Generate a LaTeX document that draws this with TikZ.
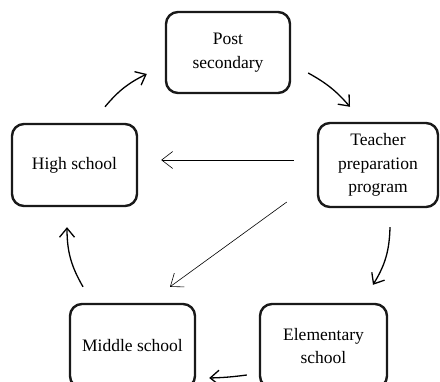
\documentclass[tikz,border=0pt]{standalone}
\usepackage{fontspec}
\setmainfont{Liberation Serif}
\usetikzlibrary{arrows.meta}
\begin{document}
\begin{tikzpicture}[x=1pt,y=-1pt,
  box/.style={draw=black!90, line width=2.4pt, rounded corners=12pt, align=center,
    font=\fontsize{17.5}{23.5}\selectfont, inner sep=0pt},
  thick arrow/.style={line width=1.3pt, -{Straight Barb[length=9pt,width=15pt,line width=1.3pt]}},
  thin arrow/.style={line width=0.6pt, -{Straight Barb[length=11pt,width=17pt,line width=0.6pt]}}]
\useasboundingbox (0,0) rectangle (440,382);
\node[box, minimum width=124pt, minimum height=81pt] (ps) at (228,52.5) {Post\\secondary};
\node[box, minimum width=120pt, minimum height=84pt] (tp) at (378,165) {Teacher\\preparation\\program};
\node[box, minimum width=125pt, minimum height=82pt] (hs) at (74.5,165) {High school};
\node[box, minimum width=125pt, minimum height=84pt] (ms) at (132.5,346) {Middle school};
\node[box, minimum width=127pt, minimum height=84pt] (es) at (323.5,346) {Elementary\\school};
\draw[thick arrow] ([shift={(30.5,-16)}]hs.north) to[bend left=12] ([shift={(-18,21.5)}]ps.west);
\draw[thick arrow] ([shift={(17,20.5)}]ps.east) to[bend left=10] ([shift={(-28,-15)}]tp.north);
\draw[thick arrow] ([shift={(12,19)}]tp.south) to[bend left=15] ([shift={(49.5,-18)}]es.north);
\draw[thick arrow] ([shift={(-12,29)}]es.west) to[bend left=3] ([shift={(13,32)}]ms.east);
\draw[thick arrow] ([shift={(-49.5,-16)}]ms.north) to[bend left=15] ([shift={(-7.5,20)}]hs.south);
\draw[thin arrow] ([shift={(-23,-5)}]tp.west) -- ([shift={(23,-5)}]hs.east);
\draw[thin arrow] ([shift={(-30,37)}]tp.west) -- ([shift={(37.5,-16)}]ms.north);
\end{tikzpicture}
\end{document}
